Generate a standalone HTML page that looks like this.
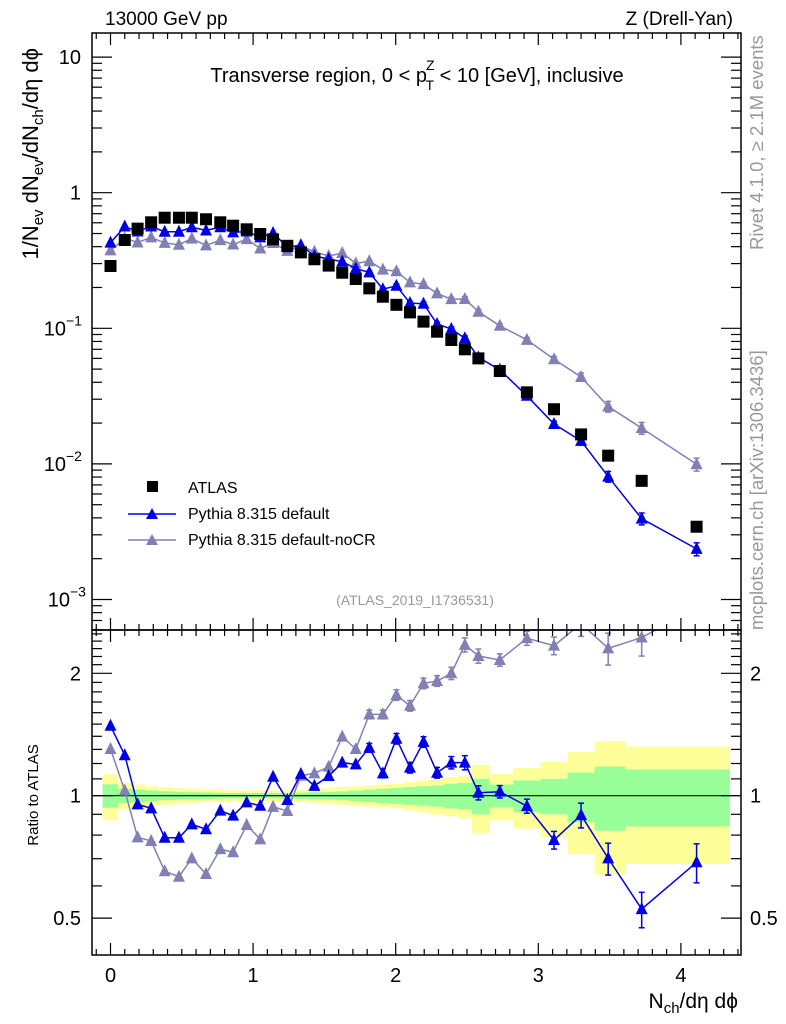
<!DOCTYPE html>
<html><head><meta charset="utf-8">
<style>
html,body{margin:0;padding:0;background:#fff;}
svg{display:block;font-family:"Liberation Sans",Arial,sans-serif;}
</style></head>
<body>
<svg id="chart" width="786" height="1024" viewBox="0 0 786 1024" xmlns="http://www.w3.org/2000/svg">
<g id="bands"></g>
<g id="grid"></g>
<g id="marks"></g>
<g id="axes"></g>
<text x="105" y="25" font-size="19">13000 GeV pp</text>
<text x="733" y="25" font-size="19" text-anchor="end">Z (Drell-Yan)</text>
<text x="417" y="82" font-size="20" text-anchor="middle">Transverse region, 0 &lt; p<tspan font-size="14" dy="-12" dx="-1">Z</tspan><tspan font-size="14" dy="20" dx="-9">T</tspan><tspan dy="-8"> &lt; 10 [GeV], inclusive</tspan></text>
<text x="415" y="605" font-size="14" fill="#999" text-anchor="middle">(ATLAS_2019_I1736531)</text>
<text transform="translate(763,250) rotate(-90)" font-size="18.5" fill="#999">Rivet 4.1.0, ≥ 2.1M events</text>
<text transform="translate(763,630) rotate(-90)" font-size="18.5" fill="#999">mcplots.cern.ch [arXiv:1306.3436]</text>
<text transform="translate(38,48) rotate(-90)" font-size="22" text-anchor="end">1/N<tspan font-size="15" dy="5">ev</tspan><tspan dy="-5"> dN</tspan><tspan font-size="15" dy="5">ev</tspan><tspan dy="-5">/dN</tspan><tspan font-size="15" dy="5">ch</tspan><tspan dy="-5">/dη dϕ</tspan></text>
<text transform="translate(38,795) rotate(-90)" font-size="15" text-anchor="middle">Ratio to ATLAS</text>
<text x="738" y="1008" font-size="21" text-anchor="end">N<tspan font-size="15" dy="5">ch</tspan><tspan dy="-5">/dη dϕ</tspan></text>
<g>
<rect x="147" y="481" width="11" height="11" fill="#000"/>
<text x="188" y="493" font-size="16">ATLAS</text>
<line x1="128" y1="514" x2="176" y2="514" stroke="#0000e6" stroke-width="1.5"/>
<polygon points="146,519 158,519 152,508" fill="#0000e6"/>
<text x="188" y="519" font-size="16">Pythia 8.315 default</text>
<line x1="128" y1="540" x2="176" y2="540" stroke="#8080b4" stroke-width="1.5"/>
<polygon points="146,545 158,545 152,534" fill="#8080b4"/>
<text x="188" y="545" font-size="16">Pythia 8.315 default-noCR</text>
</g>
</svg>
<script>
const xVals=[0,0.1,0.19,0.285,0.38,0.48,0.57,0.67,0.77,0.86,0.955,1.05,1.14,1.24,1.335,1.43,1.53,1.625,1.72,1.815,1.91,2.005,2.1,2.195,2.29,2.39,2.485,2.58,2.73,2.92,3.11,3.3,3.49,3.725,4.11];
const atlas=[0.288,0.448,0.543,0.605,0.654,0.654,0.654,0.637,0.605,0.571,0.537,0.496,0.453,0.406,0.363,0.323,0.29,0.257,0.231,0.197,0.171,0.149,0.131,0.112,0.0944,0.082,0.070,0.060,0.0484,0.0337,0.0253,0.0165,0.0115,0.0075,0.00344];
const ratioDefault=[1.486,1.257,0.952,0.931,0.788,0.788,0.85,0.827,0.919,0.893,0.963,0.945,1.113,0.976,1.131,1.057,1.118,1.206,1.194,1.312,1.135,1.381,1.172,1.356,1.139,1.206,1.206,1.017,1.023,0.943,0.778,0.896,0.701,0.526,0.686];
const ratioNoCR=[1.303,1.029,0.79,0.774,0.652,0.632,0.701,0.642,0.739,0.726,0.847,0.781,0.939,0.917,1.12,1.135,1.178,1.397,1.303,1.585,1.585,1.769,1.664,1.889,1.915,2.0,2.35,2.206,2.157,2.44,2.339,2.65,2.303,2.45,2.89];
const mcErr=[0.02,0.02,0.015,0.015,0.015,0.015,0.015,0.015,0.015,0.015,0.015,0.015,0.015,0.015,0.015,0.015,0.015,0.02,0.02,0.025,0.025,0.03,0.03,0.03,0.03,0.035,0.04,0.04,0.035,0.04,0.05,0.07,0.09,0.1,0.11];
const yellowErr=[0.13,0.075,0.065,0.055,0.05,0.045,0.04,0.035,0.035,0.03,0.03,0.03,0.03,0.03,0.035,0.04,0.045,0.05,0.055,0.06,0.065,0.07,0.08,0.09,0.1,0.11,0.12,0.19,0.13,0.17,0.21,0.28,0.36,0.32,0.32];
const greenErr=[0.066,0.04,0.035,0.03,0.025,0.022,0.02,0.018,0.016,0.015,0.015,0.015,0.015,0.015,0.017,0.02,0.022,0.025,0.03,0.035,0.04,0.045,0.05,0.055,0.06,0.07,0.075,0.1,0.065,0.09,0.1,0.14,0.18,0.16,0.16];
const xTicks=[0,1,2,3,4];
const mainTickLabels=["10","1","10","10","10"];
const mainTickExps=[1,0,-1,-2,-3];
const ratioTicks=[0.5,1,2];

const NS="http://www.w3.org/2000/svg";
const L=92,R=741,T=33,MB=630,RB=955;
const X=v=>110.5+142.6*v;
const YM=v=>192.7-135.6*Math.log10(v);
const YR=v=>795.7-406.6*Math.log10(v);
const BLUE="#0000e6",GRAY="#8080b4";
function el(tag,attrs,parent){const e=document.createElementNS(NS,tag);for(const k in attrs)e.setAttribute(k,attrs[k]);parent.appendChild(e);return e;}
const bands=document.getElementById('bands'),marks=document.getElementById('marks'),axes=document.getElementById('axes');

const defs=el('defs',{},document.getElementById('chart'));
const c1=el('clipPath',{id:'cm'},defs);el('rect',{x:L,y:T,width:R-L,height:MB-T},c1);
const c2=el('clipPath',{id:'cr'},defs);el('rect',{x:L,y:MB,width:R-L,height:RB-MB},c2);
bands.setAttribute('clip-path','url(#cr)');

const edges=[-0.055];
for(let i=0;i<xVals.length-1;i++)edges.push((xVals[i]+xVals[i+1])/2);
edges.push(4.34);
for(let i=0;i<xVals.length;i++){
  const y=el('rect',{x:X(edges[i]),y:YR(1+yellowErr[i]),width:X(edges[i+1])-X(edges[i])+0.5,height:YR(1-yellowErr[i])-YR(1+yellowErr[i]),fill:'#ffff99'},bands);
  
  
}
for(let i=0;i<xVals.length;i++){
  const g=el('rect',{x:X(edges[i]),y:YR(1+greenErr[i]),width:X(edges[i+1])-X(edges[i])+0.5,height:YR(1-greenErr[i])-YR(1+greenErr[i]),fill:'#99ff99'},bands);
  
  
}
const one=el('line',{x1:L,x2:R,y1:YR(1),y2:YR(1),stroke:'#000','stroke-width':1.2},bands);



function tri(x,y,col,parent,name){
  const p=el('polygon',{points:`${x-6},${y+5} ${x+6},${y+5} ${x},${y-7}`,fill:col},parent);
  
  
}
function series(vals,col,clip,Yf,name,errs){
  const g=el('g',{'clip-path':clip},marks);
  
  
  const pts=vals.map((v,i)=>X(xVals[i]).toFixed(1)+','+Yf(v).toFixed(1)).join(' ');
  el('polyline',{points:pts,fill:'none',stroke:col,'stroke-width':1.5},g);
  vals.forEach((v,i)=>{
    const x=X(xVals[i]);const e=errs[i];
    if(e>0.02){
      el('line',{x1:x,x2:x,y1:Yf(v*(1+e)),y2:Yf(v*(1-e)),stroke:col,'stroke-width':1.5},g);
      el('line',{x1:x-3,x2:x+3,y1:Yf(v*(1+e)),y2:Yf(v*(1+e)),stroke:col,'stroke-width':1.5},g);
      el('line',{x1:x-3,x2:x+3,y1:Yf(v*(1-e)),y2:Yf(v*(1-e)),stroke:col,'stroke-width':1.5},g);
    }
    tri(x,Yf(v),col,g,name+'-point');
  });
}
const mainNoCR=atlas.map((a,i)=>a*ratioNoCR[i]);
const mainDef=atlas.map((a,i)=>a*ratioDefault[i]);
series(mainNoCR,GRAY,'url(#cm)',YM,'nocr-main-series',mcErr);
series(mainDef,BLUE,'url(#cm)',YM,'default-main-series',mcErr);
atlas.forEach((a,i)=>{
  const r=el('rect',{x:X(xVals[i])-6,y:YM(a)-6,width:12,height:12,fill:'#000'},marks);
  
  
});
series(ratioNoCR,GRAY,'url(#cr)',YR,'nocr-ratio-series',mcErr);
series(ratioDefault,BLUE,'url(#cr)',YR,'default-ratio-series',mcErr);

[[T,MB],[MB,RB]].forEach(([t,b],k)=>{
  const f=el('rect',{x:L,y:t,width:R-L,height:b-t,fill:'none',stroke:'#000','stroke-width':1.5},axes);
  
  
  for(let v=-0.1;v<=4.4;v+=0.1){
    const x=X(v);if(x<L||x>R)continue;
    const isMaj=Math.abs(v-Math.round(v))<1e-6;const len=isMaj?12:6;
    el('line',{x1:x,x2:x,y1:t,y2:t+len,stroke:'#000','stroke-width':1.2},axes);
    el('line',{x1:x,x2:x,y1:b,y2:b-len,stroke:'#000','stroke-width':1.2},axes);
  }
});
xTicks.forEach(v=>{
  const t=el('text',{x:X(v),y:982,'font-size':20,'text-anchor':'middle'},axes);
  t.textContent=v;
  
  
});
for(let d=-4;d<=1;d++){
  for(let m=1;m<10;m++){
    const v=m*Math.pow(10,d);const y=YM(v);if(y<T||y>MB)continue;
    const len=m===1?20:10;
    el('line',{x1:L,x2:L+len,y1:y,y2:y,stroke:'#000','stroke-width':1.2},axes);
    el('line',{x1:R,x2:R-len,y1:y,y2:y,stroke:'#000','stroke-width':1.2},axes);
  }
}
mainTickExps.forEach((e,i)=>{
  const t=el('text',{x:e===-3?70:(e<0?66:81),y:YM(Math.pow(10,e))+7,'font-size':20,'text-anchor':'end'},axes);
  t.textContent=mainTickLabels[i];
  
  
  if(e<0){
    const s=el('text',{x:e===-3?70:66,y:YM(Math.pow(10,e))-3,'font-size':14},axes);
    s.textContent='−'+(-e);
    
    
  }
});
for(let k=3;k<=25;k++){
  const v=k/10;const y=YR(v);if(y<MB||y>RB)continue;
  const maj=(v===0.5||v===1||v===2);const len=maj?20:10;
  el('line',{x1:L,x2:L+len,y1:y,y2:y,stroke:'#000','stroke-width':1.2},axes);
  el('line',{x1:R,x2:R-len,y1:y,y2:y,stroke:'#000','stroke-width':1.2},axes);
}
ratioTicks.forEach(v=>{
  const t=el('text',{x:81,y:YR(v)+7,'font-size':20,'text-anchor':'end'},axes);
  t.textContent=v;
  
  
  const t2=el('text',{x:750,y:YR(v)+7,'font-size':20},axes);
  t2.textContent=v;
  
  
});
</script>
</body></html>
